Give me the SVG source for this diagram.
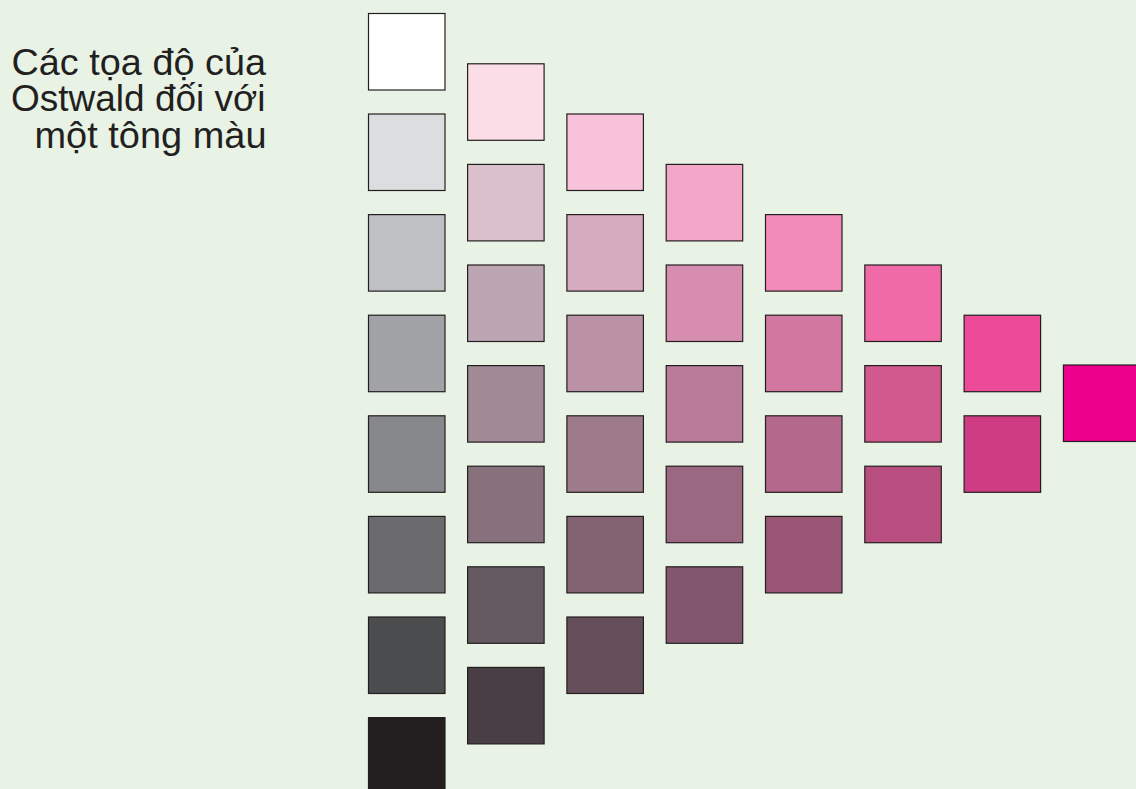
<svg xmlns="http://www.w3.org/2000/svg" width="1136" height="789" viewBox="0 0 1136 789">
<style>
.sw{stroke:#231f20;stroke-width:1.2}
.lbl{font-family:"Liberation Sans",Arial,sans-serif;font-size:36px;fill:#231f20}
</style>
<rect width="1136" height="789" fill="#e8f3e6"/>
<g id="label">
<text class="lbl" x="11.5" y="74.5" textLength="254.5" lengthAdjust="spacingAndGlyphs">Các tọa độ của</text>
<text class="lbl" x="11" y="111" textLength="254.5" lengthAdjust="spacingAndGlyphs">Ostwald đối với</text>
<text class="lbl" x="34.5" y="147.8" textLength="232" lengthAdjust="spacingAndGlyphs">một tông màu</text>
</g>
<g id="col0">
<rect class="sw" x="368.5" y="13.5" width="76.5" height="76.5" fill="#ffffff"/>
<rect class="sw" x="368.5" y="114" width="76.5" height="76.5" fill="#dcdddf"/>
<rect class="sw" x="368.5" y="214.6" width="76.5" height="76.5" fill="#bec0c3"/>
<rect class="sw" x="368.5" y="315.2" width="76.5" height="76.5" fill="#a2a3a7"/>
<rect class="sw" x="368.5" y="415.8" width="76.5" height="76.5" fill="#87888c"/>
<rect class="sw" x="368.5" y="516.4" width="76.5" height="76.5" fill="#6b6b6e"/>
<rect class="sw" x="368.5" y="617" width="76.5" height="76.5" fill="#4b4c4e"/>
<rect class="sw" x="368.5" y="717.6" width="76.5" height="76.5" fill="#231f20"/>
</g>
<g id="col1">
<rect class="sw" x="467.6" y="63.8" width="76.5" height="76.5" fill="#fbdde8"/>
<rect class="sw" x="467.6" y="164.4" width="76.5" height="76.5" fill="#d9c0cc"/>
<rect class="sw" x="467.6" y="265" width="76.5" height="76.5" fill="#bda6b3"/>
<rect class="sw" x="467.6" y="365.6" width="76.5" height="76.5" fill="#9f8a96"/>
<rect class="sw" x="467.6" y="466.2" width="76.5" height="76.5" fill="#86717c"/>
<rect class="sw" x="467.6" y="566.8" width="76.5" height="76.5" fill="#665a62"/>
<rect class="sw" x="467.6" y="667.4" width="76.5" height="76.5" fill="#4a3e45"/>
</g>
<g id="col2">
<rect class="sw" x="566.9" y="114" width="76.5" height="76.5" fill="#f8c3da"/>
<rect class="sw" x="566.9" y="214.6" width="76.5" height="76.5" fill="#d7abbf"/>
<rect class="sw" x="566.9" y="315.2" width="76.5" height="76.5" fill="#bb92a5"/>
<rect class="sw" x="566.9" y="415.8" width="76.5" height="76.5" fill="#9e7b8a"/>
<rect class="sw" x="566.9" y="516.4" width="76.5" height="76.5" fill="#836372"/>
<rect class="sw" x="566.9" y="617" width="76.5" height="76.5" fill="#654f5b"/>
</g>
<g id="col3">
<rect class="sw" x="666.2" y="164.4" width="76.5" height="76.5" fill="#f4a6c9"/>
<rect class="sw" x="666.2" y="265" width="76.5" height="76.5" fill="#d78db0"/>
<rect class="sw" x="666.2" y="365.6" width="76.5" height="76.5" fill="#b87c9a"/>
<rect class="sw" x="666.2" y="466.2" width="76.5" height="76.5" fill="#9b6881"/>
<rect class="sw" x="666.2" y="566.8" width="76.5" height="76.5" fill="#83566f"/>
</g>
<g id="col4">
<rect class="sw" x="765.5" y="214.6" width="76.5" height="76.5" fill="#f28aba"/>
<rect class="sw" x="765.5" y="315.2" width="76.5" height="76.5" fill="#d277a0"/>
<rect class="sw" x="765.5" y="415.8" width="76.5" height="76.5" fill="#b4688b"/>
<rect class="sw" x="765.5" y="516.4" width="76.5" height="76.5" fill="#9a5675"/>
</g>
<g id="col5">
<rect class="sw" x="864.8" y="265" width="76.5" height="76.5" fill="#ef6aa6"/>
<rect class="sw" x="864.8" y="365.6" width="76.5" height="76.5" fill="#d05a8e"/>
<rect class="sw" x="864.8" y="466.2" width="76.5" height="76.5" fill="#b84e7f"/>
</g>
<g id="col6">
<rect class="sw" x="964.1" y="315.2" width="76.5" height="76.5" fill="#ed4a9a"/>
<rect class="sw" x="964.1" y="415.8" width="76.5" height="76.5" fill="#d03c84"/>
</g>
<g id="col7">
<rect class="sw" x="1063.4" y="365" width="76.5" height="76.5" fill="#ec008c"/>
</g>
</svg>
